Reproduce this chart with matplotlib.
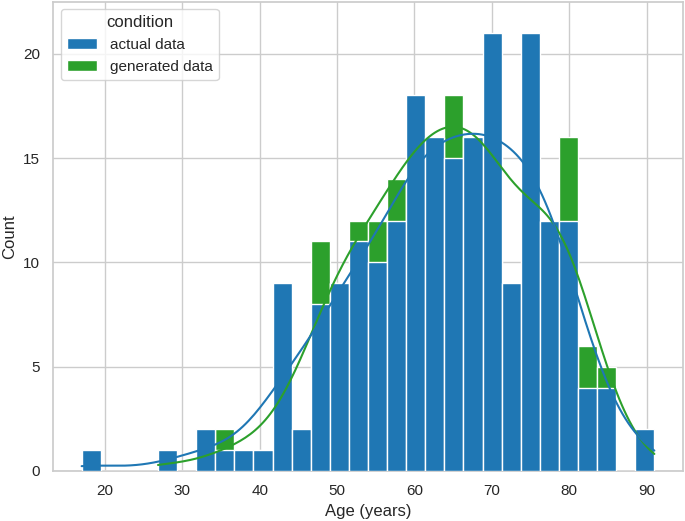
import numpy as np
import matplotlib.pyplot as plt
import seaborn as sns

# histogram bins (age in years)
bin_lo, bin_hi, n_bins = 17, 91, 30

# counts per bin (generated hidden where below actual: estimated)
actual_counts = [1, 0, 0, 0, 1, 0, 2, 1, 1, 1, 9, 2, 8, 9, 11, 10, 12, 18, 16, 15,
                 16, 21, 9, 21, 12, 12, 4, 4, 0, 2]
generated_counts = [0, 0, 0, 0, 1, 0, 0, 2, 1, 1, 4, 2, 11, 9, 12, 12, 14, 17, 16, 18,
                    16, 19, 9, 14, 12, 16, 6, 5, 0, 1]
conditions = ["actual data", "generated data"]
colors = ["#1f77b4", "#2ca02c"]

sns.set_theme(style="whitegrid")
plt.rcParams['font.family'] = ['Liberation Sans', 'DejaVu Sans']

edges = np.linspace(bin_lo, bin_hi, n_bins + 1)
centers = (edges[:-1] + edges[1:]) / 2
width = edges[1] - edges[0]


def kde_curve(counts):
    # gaussian kde (scott bandwidth) scaled to counts, over data range
    w = np.asarray(counts, dtype=float)
    n = w.sum()
    mean = (w * centers).sum() / n
    std = np.sqrt((w * (centers - mean) ** 2).sum() / (n - 1))
    bw = std * n ** (-1 / 5)
    nz = np.nonzero(w)[0]
    xs = np.linspace(edges[nz[0]], edges[nz[-1] + 1], 200)
    dens = (w[None, :] * np.exp(-0.5 * ((xs[:, None] - centers[None, :]) / bw) ** 2)).sum(1)
    dens = dens / (n * bw * np.sqrt(2 * np.pi))
    return xs, dens * n * width


fig = plt.figure(figsize=(6.85, 5.21), dpi=100)
ax = fig.add_axes([53 / 685, 50 / 521, 630 / 685, 469.5 / 521])

# layered: generated drawn first, actual on top
series = [actual_counts, generated_counts]
handles = []
for counts, color, label, z in zip(series[::-1], colors[::-1], conditions[::-1], [2, 3]):
    h = ax.bar(edges[:-1], counts, width=width, align="edge", color=color,
               edgecolor="white", linewidth=1.0, label=label, zorder=z)
    handles.append(h)
for counts, color, z in zip(series[::-1], colors[::-1], [4, 5]):
    xs, ys = kde_curve(counts)
    ax.plot(xs, ys, color=color, linewidth=1.5, zorder=z)

ax.set_xlim(bin_lo - 0.05 * (bin_hi - bin_lo), bin_hi + 0.05 * (bin_hi - bin_lo))
ax.set_ylim(0, 22.5)
ax.set_xticks([20, 30, 40, 50, 60, 70, 80, 90])
ax.set_yticks([0, 5, 10, 15, 20])
ax.tick_params(labelsize=11)
ax.set_xlabel("Age (years)", fontsize=12)
ax.set_ylabel("Count", fontsize=12)
ax.legend(handles[::-1], conditions, title="condition", loc="upper left",
          fontsize=11, title_fontsize=12)

fig.savefig("out.png", dpi=100)
